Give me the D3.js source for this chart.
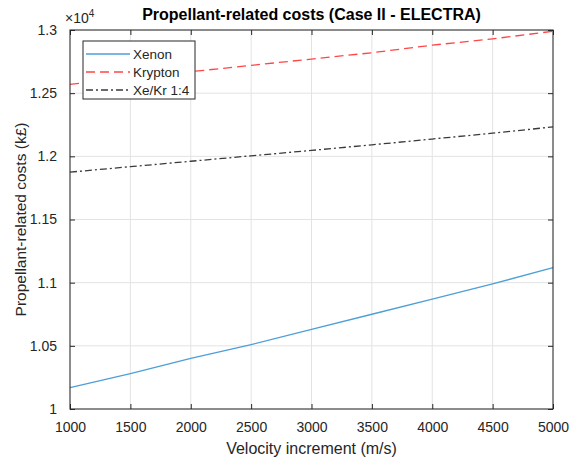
<!DOCTYPE html>
<html>
<head>
<meta charset="utf-8">
<script src="https://cdn.jsdelivr.net/npm/d3@7"></script>
<style>
  body { margin: 0; background: #fff; }
  text { font-family: "Liberation Sans", Arial, sans-serif; }
</style>
</head>
<body>
<div id="chart"></div>
<script>
// Data (cost in k£).
const velocity = [1000, 1500, 2000, 2500, 3000, 3500, 4000, 4500, 5000];
const xenon = [10170, 10280, 10400, 10510, 10630, 10750, 10870, 10990, 11120];
const krypton = [12570, 12620, 12670, 12720, 12770, 12820, 12880, 12930, 12990];
const xeKr = [11875, 11918, 11961, 12004, 12047, 12091, 12137, 12183, 12233];
const seriesNames = ['Xenon', 'Krypton', 'Xe/Kr 1:4'];
const xTicks = [1000, 1500, 2000, 2500, 3000, 3500, 4000, 4500, 5000];
const yTicks = [10000, 10500, 11000, 11500, 12000, 12500, 13000];

const attrs = {
  svgWidth: 569,
  svgHeight: 461,
  marginTop: 30,
  marginLeft: 70,
  marginRight: 16,
  marginBottom: 52,
  colors: ['#4d9fd8', '#ff4545', '#3a3a3a'],
  dashes: [null, '9 5', '7 3 2 3'],
  axisColor: '#262626',
  gridColor: '#e3e3e3'
};

const calc = {};
calc.chartWidth = attrs.svgWidth - attrs.marginLeft - attrs.marginRight;
calc.chartHeight = attrs.svgHeight - attrs.marginTop - attrs.marginBottom;

const svg = d3.select('#chart').append('svg')
  .attr('width', attrs.svgWidth)
  .attr('height', attrs.svgHeight);

const chart = svg.append('g')
  .attr('transform', 'translate(' + attrs.marginLeft + ',' + attrs.marginTop + ')');

// Scales.
const xScale = d3.scaleLinear().domain([1000, 5000]).range([0, calc.chartWidth]);
const yScale = d3.scaleLinear().domain([10000, 13000]).range([calc.chartHeight, 0]);

// Grid.
chart.append('g').selectAll('line').data(xTicks).join('line')
  .attr('x1', d => xScale(d)).attr('x2', d => xScale(d))
  .attr('y1', 0).attr('y2', calc.chartHeight)
  .attr('stroke', attrs.gridColor);
chart.append('g').selectAll('line').data(yTicks).join('line')
  .attr('y1', d => yScale(d)).attr('y2', d => yScale(d))
  .attr('x1', 0).attr('x2', calc.chartWidth)
  .attr('stroke', attrs.gridColor);

// Axes (ticks inward, box on).
function styleAxis(g) {
  g.select('.domain').remove();
  g.selectAll('.tick line').attr('stroke', attrs.axisColor);
  g.selectAll('.tick text').attr('fill', attrs.axisColor).attr('font-size', 14);
}

chart.append('g')
  .attr('transform', 'translate(0,' + calc.chartHeight + ')')
  .call(d3.axisBottom(xScale).tickValues(xTicks).tickSize(-5).tickPadding(13).tickFormat(d3.format('d')))
  .call(styleAxis);
chart.append('g')
  .call(d3.axisTop(xScale).tickValues(xTicks).tickSize(-5).tickFormat(''))
  .call(styleAxis);
chart.append('g')
  .call(d3.axisLeft(yScale).tickValues(yTicks).tickSize(-5).tickPadding(13)
    .tickFormat(d => d3.format('')(+(d / 1e4).toFixed(2))))
  .call(styleAxis);
chart.append('g')
  .attr('transform', 'translate(' + calc.chartWidth + ',0)')
  .call(d3.axisRight(yScale).tickValues(yTicks).tickSize(-5).tickFormat(''))
  .call(styleAxis);

// Lines.
const line = d3.line()
  .x((d, i) => xScale(velocity[i]))
  .y(d => yScale(d));

const series = [xenon, krypton, xeKr];
chart.append('g').selectAll('path').data(series).join('path')
  .attr('d', line)
  .attr('fill', 'none')
  .attr('stroke', (d, i) => attrs.colors[i])
  .attr('stroke-width', 1.3)
  .attr('stroke-dasharray', (d, i) => attrs.dashes[i]);

// Box.
chart.append('rect')
  .attr('width', calc.chartWidth).attr('height', calc.chartHeight)
  .attr('fill', 'none').attr('stroke', attrs.axisColor);

// Legend.
const legend = chart.append('g').attr('transform', 'translate(13,11)');
legend.append('rect')
  .attr('width', 112).attr('height', 58)
  .attr('fill', '#fff').attr('stroke', attrs.axisColor);
seriesNames.forEach((name, i) => {
  const y = 13 + i * 18;
  legend.append('line')
    .attr('x1', 3).attr('x2', 47).attr('y1', y).attr('y2', y)
    .attr('stroke', attrs.colors[i]).attr('stroke-width', 1.3)
    .attr('stroke-dasharray', attrs.dashes[i]);
  legend.append('text')
    .attr('x', 50).attr('y', y).attr('dy', '0.35em')
    .attr('font-size', 13.5).attr('fill', attrs.axisColor)
    .text(name);
});

// Title and labels.
svg.append('text')
  .attr('x', attrs.marginLeft + calc.chartWidth / 2).attr('y', 20)
  .attr('text-anchor', 'middle').attr('font-size', 16).attr('font-weight', 'bold')
  .attr('fill', '#000')
  .text('Propellant-related costs (Case II - ELECTRA)');

const expLabel = svg.append('text')
  .attr('x', attrs.marginLeft - 5).attr('y', 23)
  .attr('font-size', 14).attr('fill', attrs.axisColor);
expLabel.append('tspan').text('\u00d710');
expLabel.append('tspan').attr('font-size', 10).attr('dy', -6).text('4');

svg.append('text')
  .attr('x', attrs.marginLeft + calc.chartWidth / 2).attr('y', attrs.svgHeight - 7)
  .attr('text-anchor', 'middle').attr('font-size', 16).attr('fill', attrs.axisColor)
  .text('Velocity increment (m/s)');

svg.append('text')
  .attr('transform', 'translate(26,' + (attrs.marginTop + calc.chartHeight / 2) + ') rotate(-90)')
  .attr('text-anchor', 'middle').attr('font-size', 15.5).attr('fill', attrs.axisColor)
  .text('Propellant-related costs (k\u00a3)');
</script>
</body>
</html>
